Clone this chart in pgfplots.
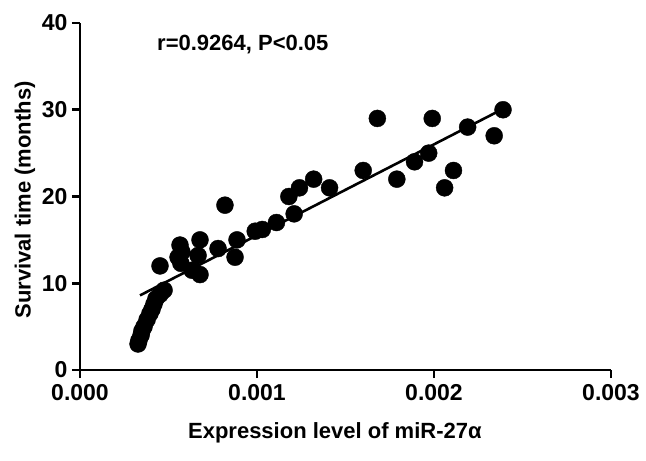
\documentclass[border=0pt]{standalone}
\usepackage{fontspec}
\setmainfont{Liberation Sans}
\usepackage{pgfplots}
\pgfplotsset{compat=1.18}

% survival time vs expression level
\pgfplotstableread{
x y
0.000328 3
0.000333 3.4
0.000345 4
0.000350 4.5
0.000362 5
0.000379 5.8
0.000395 6.5
0.000407 7
0.000418 7.6
0.000429 8.2
0.000452 8.7
0.000475 9.2
0.000452 12
0.000565 14.4
0.000554 13
0.000576 13.6
0.000570 12.3
0.000678 15
0.000667 13.2
0.000678 11
0.000633 11.5
0.000780 14
0.000819 19
0.000887 15
0.000876 13
0.000990 16
0.001030 16.2
0.001110 17
0.001210 18
0.001180 20
0.001240 21
0.001320 22
0.001410 21
0.001600 23
0.001680 29
0.001990 29
0.001790 22
0.001890 24
0.001970 25
0.002110 23
0.002060 21
0.002190 28
0.002340 27
0.002390 30
}\pts

\begin{document}
\begin{tikzpicture}
\useasboundingbox (-80pt,-91pt) rectangle (566pt,370pt);
\begin{axis}[
  scale only axis,
  width=531pt, height=347pt,
  xmin=0, xmax=0.003, ymin=0, ymax=40,
  axis lines=left,
  axis line style={-, line width=2.6pt},
  every tick/.style={line width=2.6pt, black},
  tick align=outside,
  major tick length=8pt,
  xtick={0,0.001,0.002,0.003},
  ytick={0,10,20,30,40},
  scaled x ticks=false,
  /pgf/number format/assume math mode=true,
  xticklabel style={/pgf/number format/fixed, /pgf/number format/precision=3,
    /pgf/number format/fixed zerofill, font=\fontsize{23}{26}\selectfont\bfseries, yshift=-3pt},
  yticklabel style={font=\fontsize{23}{26}\selectfont\bfseries, xshift=-1pt},
  xlabel={Expression level of miR-27α},
  ylabel={Survival time (months)},
  xlabel style={font=\fontsize{22}{25}\selectfont\bfseries, at={(axis description cs:0.48,0)}, anchor=center, yshift=-63pt},
  ylabel style={font=\fontsize{22}{25}\selectfont\bfseries, at={(axis description cs:0,0.49)}, anchor=center, yshift=55pt},
  clip=false,
]
\addplot[only marks, mark=*, mark size=8.5pt, black] table[x=x, y=y] {\pts};
\addplot[black, line width=2.6pt] coordinates {(0.000339,8.6) (0.00239,30.1)};
\node[font=\fontsize{22}{25}\selectfont\bfseries] at (axis cs:0.00092,37.5) {r=0.9264, P<0.05};
\end{axis}
\end{tikzpicture}
\end{document}
